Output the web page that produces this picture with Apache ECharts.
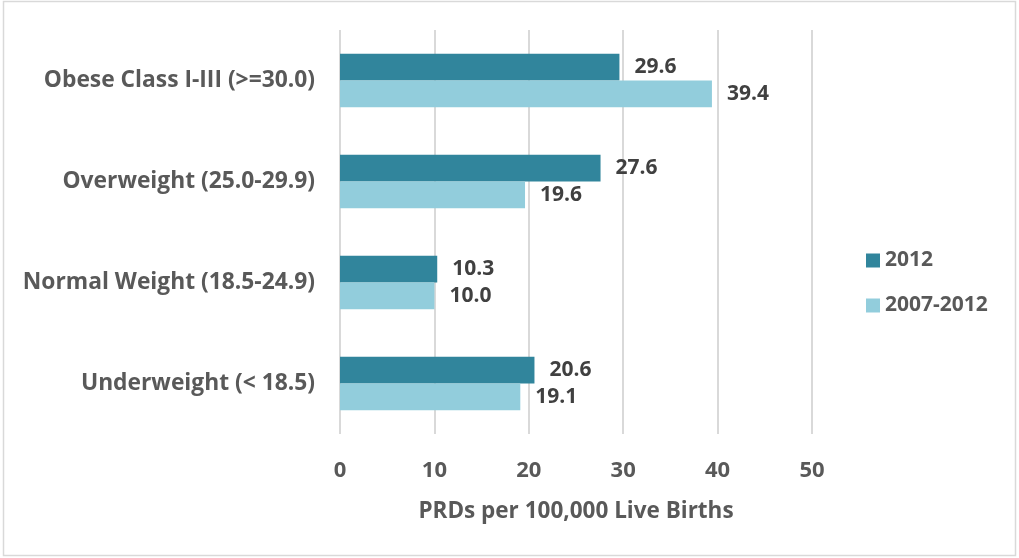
<!DOCTYPE html>
<html>
<head>
<meta charset="utf-8">
<script src="https://cdn.jsdelivr.net/npm/echarts@6/dist/echarts.min.js"></script>
<style>
html,body{margin:0;padding:0;background:#fff;}
#chart{width:1019px;height:558px;}
</style>
</head>
<body>
<div id="chart"></div>
<script>
const categories = ["Obese Class I-III (>=30.0)", "Overweight (25.0-29.9)", "Normal Weight (18.5-24.9)", "Underweight (< 18.5)"];
const series2012 = [29.6, 27.6, 10.3, 20.6];
const series2007_2012 = [39.4, 19.6, 10.0, 19.1];
const seriesNames = ["2012", "2007-2012"];
const xTicks = [0, 10, 20, 30, 40, 50];

const FONT = "Open Sans";
const TXT = "#595959";
const chart = echarts.init(document.getElementById('chart'), null, {renderer: 'canvas'});
const labelCfg = {
  show: true, position: 'right', distance: 15,
  formatter: p => p.value.toFixed(1),
  color: '#404040', fontFamily: FONT, fontWeight: 'bold', fontSize: 21
};
chart.setOption({
  animation: false,
  textStyle: {fontFamily: FONT},
  graphic: [{
    type: 'rect', silent: true,
    shape: {x: 3.5, y: 1.5, width: 1012, height: 554},
    style: {fill: 'none', stroke: '#d9d9d9', lineWidth: 1.5}
  }],
  grid: {left: 340, right: 207, top: 30, bottom: 124},
  legend: {
    orient: 'vertical', left: 861, top: 245, itemGap: 24, itemTextGap: 6,
    itemWidth: 14, itemHeight: 14, icon: 'rect',
    textStyle: {color: TXT, fontFamily: FONT, fontWeight: 'bold', fontSize: 21, padding: [0,0,0,0]},
    data: seriesNames
  },
  xAxis: {
    type: 'value', min: xTicks[0], max: xTicks[xTicks.length-1], interval: 10,
    name: 'PRDs per 100,000 Live Births', nameLocation: 'middle', nameGap: 66,
    nameTextStyle: {color: TXT, fontFamily: FONT, fontWeight: 'bold', fontSize: 22.5},
    axisLine: {show: false}, axisTick: {show: false},
    axisLabel: {color: TXT, fontFamily: FONT, fontWeight: 'bold', fontSize: 22, margin: 26},
    splitLine: {show: true, lineStyle: {color: '#d9d9d9', width: 2}}
  },
  yAxis: {
    type: 'category', data: categories, inverse: true,
    axisLine: {show: false}, axisTick: {show: false},
    axisLabel: {color: TXT, fontFamily: FONT, fontWeight: 'bold', fontSize: 22.8, margin: 25}
  },
  series: [
    {name: seriesNames[0], type: 'bar', data: series2012, barGap: '0%', barCategoryGap: '47%',
     itemStyle: {color: '#31859C'}, label: labelCfg},
    {name: seriesNames[1], type: 'bar', data: series2007_2012,
     itemStyle: {color: '#92CDDC'}, label: labelCfg}
  ]
});
</script>
</body>
</html>
